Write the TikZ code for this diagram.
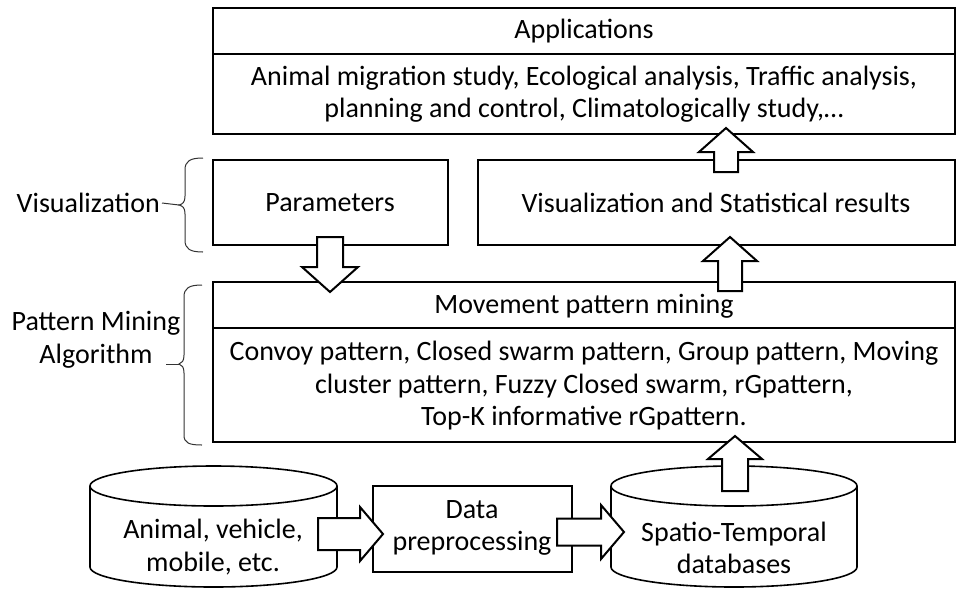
\documentclass[tikz,border=0pt]{standalone}
\usepackage{fontspec}
\setmainfont{Carlito}

\tikzset{
  box/.style={line width=1.6pt},
  blockarrow/.style={line width=2pt, fill=white, line join=miter},
  bracket/.style={line width=1pt, black!80},
  txt/.style={font=\fontsize{28}{32.5}\selectfont, align=center, inner sep=2pt}
}

\begin{document}
\begin{tikzpicture}[x=1pt,y=-1pt]
  \useasboundingbox (0,0) rectangle (960,590);

  % applications
  \draw[box] (213,8) rectangle (955,134);
  \draw[box] (213,54) -- (955,54);
  \node[txt] (apptitle) at (584,31) {Applications};
  \node[txt] (applist) at (584,94)
    {Animal migration study, Ecological analysis, Traffic analysis,\\
     planning and control, Climatologically study,…};

  % visualization row
  \draw[box] (213,160) rectangle (448,245);
  \node[txt] (params) at (330,203) {Parameters};
  \draw[box] (478,160) rectangle (955,245);
  \node[txt] (results) at (716,203) {Visualization and Statistical results};

  % mining
  \draw[box] (213,282) rectangle (955,442);
  \draw[box] (213,328) -- (955,328);
  \node[txt] (minetitle) at (584,306) {Movement pattern mining};
  \node[txt] (minelist) at (584,386)
    {Convoy pattern, Closed swarm pattern, Group pattern, Moving\\
     cluster pattern, Fuzzy Closed swarm, rGpattern,\\
     Top-K informative rGpattern.};

  % data sources
  \draw[box] (213.5,486) ellipse [x radius=123.5, y radius=20];
  \draw[box] (90,486) -- (90,567) arc [start angle=180, end angle=0,
    x radius=123.5, y radius=20] -- (337,486);
  \node[txt] (rawdata) at (213,547) {Animal, vehicle,\\ mobile, etc.};

  \draw[box] (373,486) rectangle (572,572);
  \node[txt] (prep) at (472,528) {Data\\ preprocessing};

  \draw[box] (734,486) ellipse [x radius=123,y radius=20];
  \draw[box] (611,486) -- (611,567) arc [start angle=180, end angle=0,
    x radius=123, y radius=20] -- (857,486);
  \node[txt] (stdb) at (734,548) {Spatio-Temporal\\ databases};

  % block arrows
  \draw[blockarrow] (318,518) -- (360,518) -- (360,507) -- (383,534)
    -- (360,561) -- (360,550) -- (318,550) -- cycle;
  \draw[blockarrow] (557,518.5) -- (601,518.5) -- (601,505) -- (624,532)
    -- (601,559) -- (601,545.5) -- (557,545.5) -- cycle;
  \draw[blockarrow] (722,491) -- (722,459) -- (708,459) -- (735,436)
    -- (762,459) -- (748,459) -- (748,491) -- cycle;
  \draw[blockarrow] (718,291) -- (718,261) -- (703,261) -- (730,237)
    -- (757,261) -- (742,261) -- (742,291) -- cycle;
  \draw[blockarrow] (714,172) -- (714,152) -- (699,152) -- (726,128)
    -- (753,152) -- (738,152) -- (738,172) -- cycle;
  \draw[blockarrow] (317,237) -- (317,267) -- (302,267) -- (330,292)
    -- (358,267) -- (343,267) -- (343,237) -- cycle;

  % side brackets
  \node[txt, anchor=east] (vislabel) at (162,203) {Visualization};
  \coordinate (vistip) at (179,205);
  \draw[bracket] (203,158) .. controls (190,158) and (185,161) .. (185,170)
    -- (185,196) .. controls (185,202) and (183,204) .. (vistip)
    .. controls (183,206) and (185,208) .. (185,214) -- (185,240)
    .. controls (185,249) and (190,252) .. (203,252);
  \draw[bracket] (vislabel.east) -- (vistip);

  \node[txt] (patlabel) at (96,340) {Pattern Mining\\ Algorithm};
  \coordinate (pattip) at (179,364);
  \coordinate (pattick) at (166,364);
  \draw[bracket] (202,285) .. controls (189,285) and (184,288) .. (184,297)
    -- (184,355) .. controls (184,361) and (182,363) .. (pattip)
    .. controls (182,365) and (184,367) .. (184,373) -- (184,435)
    .. controls (184,443) and (189,445) .. (202,445);
  \draw[bracket] (pattick) -- (pattip);
\end{tikzpicture}
\end{document}
